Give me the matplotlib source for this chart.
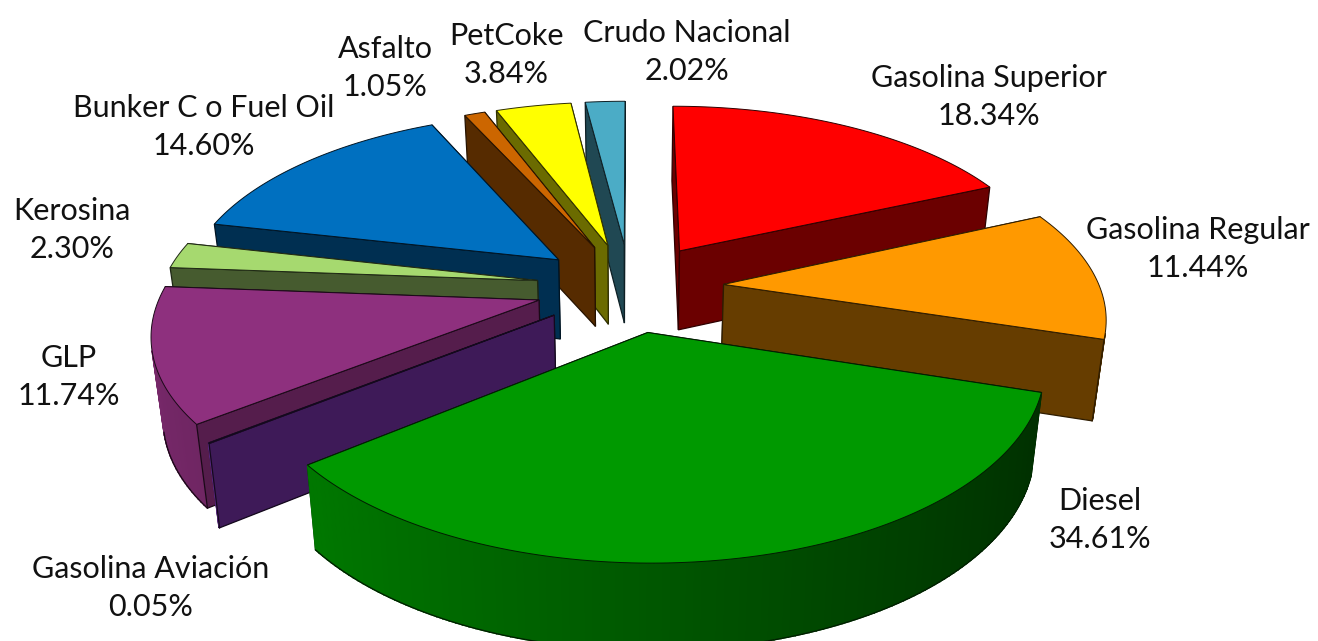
import numpy as np
import matplotlib
matplotlib.use("Agg")
import matplotlib.pyplot as plt
from matplotlib.patches import Polygon
from matplotlib.colors import to_rgb

categories = ["Gasolina Superior", "Gasolina Regular", "Diesel", "Gasolina Aviación", "GLP",
              "Kerosina", "Bunker C o Fuel Oil", "Asfalto", "PetCoke", "Crudo Nacional"]
shares = [18.34, 11.44, 34.61, 0.05, 11.74, 2.30, 14.60, 1.05, 3.84, 2.02]

colors = ["#FF0000", "#FF9900", "#009900", "#7030A0", "#8E307E",
          "#A6D96F", "#0070C0", "#CC6600", "#FFFF00", "#4BACC6"]
cut_shade = [0.42, 0.40, 0.42, 0.55, 0.60, 0.42, 0.42, 0.42, 0.42, 0.42]
label_xy = [(989, 97), (1198, 249), (1100, 520), (151, 588), (69, 377),
            (72, 230), (204, 127), (385, 68), (506, 55), (687, 52)]
draw_order = [9, 8, 7, 6, 0, 5, 1, 4, 3, 2]

CX, CY = 630, 287
RX, RY, DEPTH = 376, 178, 80
PERSP = 0.158
EXPLODE = 0.25
SHRINK = 0.025

def project(u, v, drop=0.0):
    s = 1.0 / (1.0 + PERSP * v)
    return np.column_stack([CX + RX * u * s * (1 - SHRINK * drop),
                            CY - RY * v * s + DEPTH * drop * s ** 0.4])

def mix(col, f):
    return tuple(np.clip(np.array(to_rgb(col)) * f, 0, 1))

def signed_area(p):
    x, y = p[:, 0], p[:, 1]
    return np.sum(x * np.roll(y, -1) - np.roll(x, -1) * y)

fig = plt.figure(figsize=(13.18, 6.41), dpi=100)
ax = fig.add_axes([0, 0, 1, 1])
ax.set_xlim(0, 1318)
ax.set_ylim(641, 0)
ax.axis("off")

frac = np.array(shares) / sum(shares)
edges = np.concatenate([[0], np.cumsum(frac)]) * 2 * np.pi

z = 1
for i in draw_order:
    a0, a1 = edges[i], edges[i + 1]
    mid = 0.5 * (a0 + a1)
    ou, ov = EXPLODE * np.sin(mid), EXPLODE * np.cos(mid)
    th = np.linspace(a0, a1, max(4, int((a1 - a0) * 60)))
    au, av = ou + np.sin(th), ov + np.cos(th)
    col = colors[i]
    cut = mix(col, cut_shade[i])
    edge = mix(col, 0.18)

    apex_top = project(np.array([ou]), np.array([ov]))
    apex_bot = project(np.array([ou]), np.array([ov]), 1)
    top_line = project(au, av)
    bot_line = project(au, av, 1)

    def cut_face(a):
        uu, vv = np.array([ou + np.sin(a)]), np.array([ov + np.cos(a)])
        return np.vstack([apex_top, project(uu, vv), project(uu, vv, 1), apex_bot])

    # back-facing cut faces go under the wall, front-facing ones over it
    faces = [(cut_face(a0), np.sin(a0) < 0), (cut_face(a1), np.sin(a1) > 0)]
    for poly, visible in faces:
        if not visible:
            ax.add_patch(Polygon(poly, closed=True, fc=cut, ec=edge, lw=0.9, zorder=z))
            z += 1

    for k in range(len(th) - 1):
        q = np.vstack([top_line[k:k + 2], bot_line[k:k + 2][::-1]])
        if signed_area(q) >= 0:
            continue
        tm = 0.5 * (th[k] + th[k + 1])
        f = 0.57 - 0.27 * np.sin(tm)
        ax.add_patch(Polygon(q, closed=True, fc=mix(col, f), ec=mix(col, f), lw=1.0, zorder=z))
        z += 1
        ax.plot(bot_line[k:k + 2, 0], bot_line[k:k + 2, 1], color=edge, lw=0.9, zorder=z)
        z += 1

    for poly, visible in faces:
        if visible:
            ax.add_patch(Polygon(poly, closed=True, fc=cut, ec=edge, lw=0.9, zorder=z))
            z += 1

    top = np.vstack([apex_top, top_line])
    ax.add_patch(Polygon(top, closed=True, fc=col, ec=edge, lw=0.7, zorder=z))
    z += 1

for name, val, (x, y) in zip(categories, shares, label_xy):
    ax.text(x, y, f"{name}\n{val:.2f}%", ha="center", va="center", fontsize=22,
            family="Lato", color="#111111", linespacing=1.47, zorder=z)

fig.savefig("out.png", dpi=100)
